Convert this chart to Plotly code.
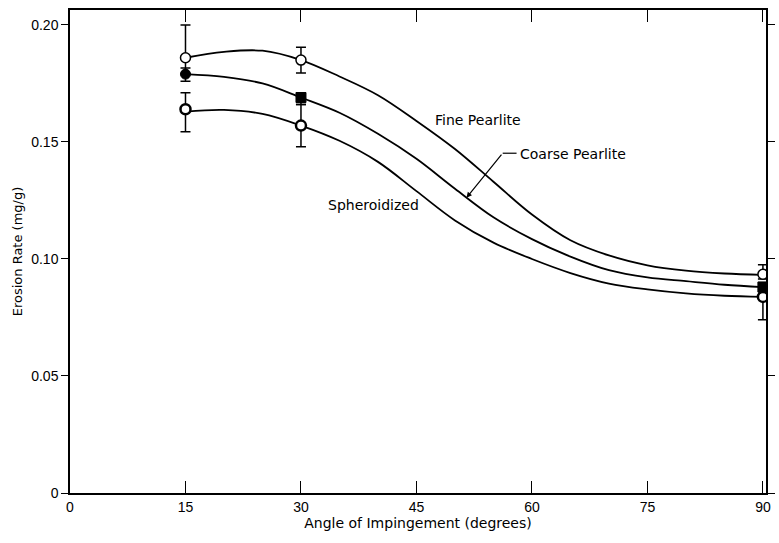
import plotly.graph_objects as go

# ---- data ----
curve_angle = [15, 20, 25, 30, 35, 40, 45, 50, 55, 60, 65, 70, 75, 80, 85, 90]
fine_curve = [0.186, 0.1885, 0.189, 0.185, 0.178, 0.170, 0.159, 0.147, 0.133, 0.119,
              0.108, 0.1015, 0.0973, 0.095, 0.0938, 0.0932]
coarse_curve = [0.179, 0.1778, 0.175, 0.169, 0.1625, 0.1535, 0.1428, 0.130, 0.1178, 0.1085,
                0.101, 0.0952, 0.0921, 0.0905, 0.089, 0.088]
sphero_curve = [0.163, 0.1637, 0.162, 0.157, 0.1505, 0.1415, 0.129, 0.1165, 0.107, 0.100,
                0.094, 0.0895, 0.087, 0.0853, 0.0843, 0.0838]

point_angle = [15, 30, 90]
fine_pts = [0.186, 0.185, 0.0935]
fine_err_plus = [0.014, 0.0055, 0.004]
fine_err_minus = [0.007, 0.0055, 0.002]
coarse_pts = [0.179, 0.169, 0.088]
coarse_err_plus = [0.0026, 0.002, 0.002]
coarse_err_minus = [0.003, 0.003, 0.002]
sphero_pts = [0.164, 0.157, 0.0838]
sphero_err_plus = [0.007, 0.009, 0.003]
sphero_err_minus = [0.0096, 0.009, 0.0098]

x_ticks = [0, 15, 30, 45, 60, 75, 90]
y_ticks = [0, 0.05, 0.10, 0.15, 0.20]
y_tick_text = ["0", "0.05", "0.10", "0.15", "0.20"]

FONT = "Liberation Sans, Arial, sans-serif"
LFONT = "DejaVu Sans, sans-serif"
BLACK = "black"

fig = go.Figure()

for yc in (fine_curve, coarse_curve, sphero_curve):
    fig.add_trace(go.Scatter(x=curve_angle, y=yc, mode="lines",
                             line=dict(color=BLACK, width=1.8, shape="spline", smoothing=1.0),
                             hoverinfo="skip", showlegend=False))

def err(plus, minus):
    return dict(type="data", symmetric=False, array=plus, arrayminus=minus,
                color=BLACK, thickness=1.5, width=5)

fig.add_trace(go.Scatter(x=point_angle, y=fine_pts, mode="markers", name="Fine Pearlite",
                         error_y=err(fine_err_plus, fine_err_minus),
                         marker=dict(symbol="circle", size=10, color="white",
                                     line=dict(color=BLACK, width=1.5)),
                         showlegend=False))
fig.add_trace(go.Scatter(x=point_angle, y=coarse_pts, mode="markers", name="Coarse Pearlite",
                         error_y=err(coarse_err_plus, coarse_err_minus),
                         marker=dict(symbol=["circle", "square", "square"], size=10, color=BLACK,
                                     line=dict(color=BLACK, width=1)),
                         showlegend=False))
fig.add_trace(go.Scatter(x=point_angle, y=sphero_pts, mode="markers", name="Spheroidized",
                         error_y=err(sphero_err_plus, sphero_err_minus),
                         marker=dict(symbol="circle", size=10, color="white",
                                     line=dict(color=BLACK, width=2.5)),
                         showlegend=False))

# curve labels
lab_font = dict(family=LFONT, size=14, color=BLACK)
fig.add_annotation(x=47.2, y=0.1594, text="Fine Pearlite", showarrow=False,
                   xanchor="left", yanchor="middle", font=lab_font)
fig.add_annotation(x=58.2, y=0.1448, text="Coarse Pearlite", showarrow=False,
                   xanchor="left", yanchor="middle", font=lab_font)
fig.add_annotation(x=33.2, y=0.123, text="Spheroidized", showarrow=False,
                   xanchor="left", yanchor="middle", font=lab_font)
# leader for Coarse Pearlite
fig.add_shape(type="line", x0=58.0, y0=0.1452, x1=56.2, y1=0.1452,
              line=dict(color=BLACK, width=1.2))
fig.add_annotation(x=51.5, y=0.1262, ax=56.2, ay=0.1452, axref="x", ayref="y",
                   text="", showarrow=True, arrowhead=2, arrowsize=0.9, arrowwidth=1.2,
                   arrowcolor=BLACK)

fig.update_layout(
    width=779, height=543,
    margin=dict(l=70, r=4, t=10, b=50),
    paper_bgcolor="white", plot_bgcolor="white",
    font=dict(family=FONT, size=13, color=BLACK),
    xaxis=dict(range=[0, 90.4], tickvals=x_ticks, ticktext=[str(v) for v in x_ticks],
               ticks="inside", ticklen=12, tickwidth=1.2, tickcolor=BLACK,
               showline=True, linecolor=BLACK, linewidth=1.5, mirror="ticks",
               showgrid=False, zeroline=False, tickfont=dict(size=14),
               title=dict(text="Angle of Impingement (degrees)", standoff=5,
                          font=dict(family=LFONT, size=14, color=BLACK))),
    yaxis=dict(range=[0, 0.2064], tickvals=y_ticks, ticktext=y_tick_text,
               ticks="outside", ticklen=7, tickwidth=1.2, tickcolor=BLACK,
               showline=True, linecolor=BLACK, linewidth=1.5, mirror="ticks",
               showgrid=False, zeroline=False, tickfont=dict(size=14),
               title=dict(text="Erosion Rate (mg/g)", standoff=6,
                          font=dict(family=LFONT, size=13, color=BLACK))),
)

fig.write_html("out.html")
